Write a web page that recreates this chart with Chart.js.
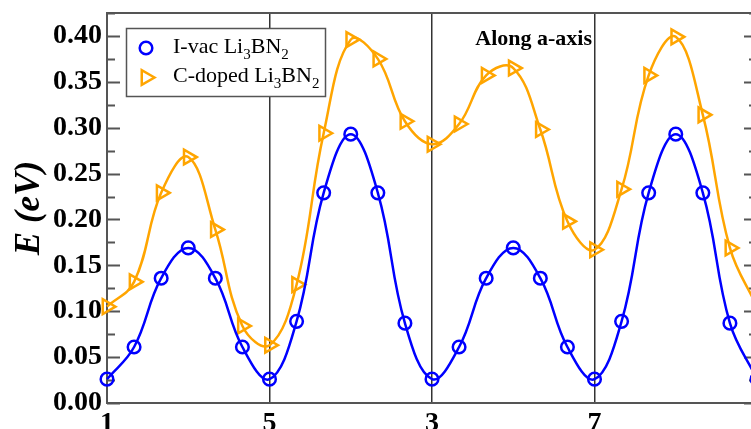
<!DOCTYPE html>
<html><head><meta charset="utf-8">
<script src="https://cdn.jsdelivr.net/npm/chart.js@4/dist/chart.umd.min.js"></script>
<style>
html,body{margin:0;padding:0;overflow:hidden;background:#fff}
#wrap{position:absolute;left:0;top:0;width:760px;height:440px}
canvas{display:block}
</style></head>
<body><div id="wrap"><canvas id="c" width="760" height="440" style="width:760px;height:440px"></canvas></div>
<script>
// ---- data ----
const pathTickLabels = ['1', '5', '3', '7', ''];
const pointsPerSegment = 6;
const ivacValues = [
  0.026, 0.061, 0.136, 0.169, 0.136, 0.061,
  0.026, 0.089, 0.229, 0.293, 0.229, 0.087,
  0.026, 0.061, 0.136, 0.169, 0.136, 0.061,
  0.026, 0.089, 0.229, 0.293, 0.229, 0.087,
  0.026
];
const cdopedValues = [
  0.105, 0.132, 0.229, 0.268, 0.189, 0.084,
  0.063, 0.129, 0.294, 0.396, 0.375, 0.307,
  0.282, 0.304, 0.357, 0.365, 0.298, 0.198,
  0.167, 0.233, 0.357, 0.399, 0.314, 0.169,
  0.105
];
const yMin = 0, yMax = 0.425, yStep = 0.05;
const legendParts = [
  [['I-vac Li', false], ['3', true], ['BN', false], ['2', true]],
  [['C-doped Li', false], ['3', true], ['BN', false], ['2', true]]
];
const annotationText = 'Along a-axis';
const yAxisTitle = 'E (eV)';

const BLUE = 'rgb(0,0,255)';
const ORANGE = 'rgb(255,165,0)';
const FRAME = '#555';
const SERIF = '"Liberation Serif", "Times New Roman", serif';

const xLabels = ivacValues.map((_, i) => (i % pointsPerSegment === 0) ? pathTickLabels[i / pointsPerSegment] : '');

function zeroPad(scale) {
  scale.paddingTop = 0; scale.paddingBottom = 0;
  scale.paddingLeft = 0; scale.paddingRight = 0;
}

const framePlugin = {
  id: 'frame',
  beforeDatasetsDraw(chart) {
    const ctx = chart.ctx;
    const {left, right, top, bottom} = chart.chartArea;
    const ys = chart.scales.y;
    ctx.save();
    ctx.strokeStyle = FRAME;
    ctx.lineWidth = 2;
    ctx.strokeRect(left, top, right - left, bottom - top);
    const n = Math.round((yMax - yMin) / (yStep / 2));
    for (let k = 0; k <= n; k++) {
      const v = yMin + k * yStep / 2;
      if (v > yMax + 1e-9) break;
      const py = Math.round(ys.getPixelForValue(v)) + 0.5;
      const len = (k % 2 === 0) ? 13 : 8;
      ctx.beginPath();
      ctx.moveTo(left, py); ctx.lineTo(left + len, py);
      ctx.moveTo(right, py); ctx.lineTo(right - len, py);
      ctx.stroke();
    }
    ctx.restore();
  },
  afterDraw(chart) {
    const ctx = chart.ctx;
    ctx.save();
    ctx.fillStyle = '#fff';
    ctx.fillRect(126, 28, 200, 69);
    ctx.strokeStyle = FRAME;
    ctx.lineWidth = 1.5;
    ctx.strokeRect(126.5, 28.5, 199, 68);
    ctx.strokeStyle = BLUE; ctx.lineWidth = 2.5;
    ctx.beginPath(); ctx.arc(146, 48, 6.3, 0, Math.PI * 2); ctx.stroke();
    ctx.strokeStyle = ORANGE;
    const r = 8.5, cx = 146, cy = 77.5;
    ctx.beginPath();
    ctx.moveTo(cx + r, cy);
    ctx.lineTo(cx - r / 2, cy - r * 0.866);
    ctx.lineTo(cx - r / 2, cy + r * 0.866);
    ctx.closePath(); ctx.stroke();
    ctx.fillStyle = '#000';
    ctx.textBaseline = 'alphabetic';
    ctx.textAlign = 'left';
    const baselines = [53, 82];
    legendParts.forEach((parts, i) => {
      let x = 173;
      parts.forEach(([t, sub]) => {
        ctx.font = sub ? '15px ' + SERIF : '22px ' + SERIF;
        ctx.fillText(t, x, baselines[i] + (sub ? 6 : 0));
        x += ctx.measureText(t).width;
      });
    });
    ctx.font = 'bold 22px ' + SERIF;
    ctx.textAlign = 'right';
    ctx.fillText(annotationText, 592, 45);
    ctx.restore();
  }
};

new Chart(document.getElementById('c'), {
  type: 'line',
  data: {
    labels: xLabels,
    datasets: [
      {
        label: 'I-vac Li3BN2',
        data: ivacValues,
        borderColor: BLUE,
        borderWidth: 2.5,
        tension: 0.4,
        pointStyle: 'circle',
        pointRadius: 6.3,
        pointBorderWidth: 2.5,
        pointBorderColor: BLUE,
        pointBackgroundColor: 'rgba(0,0,0,0)',
        fill: false
      },
      {
        label: 'C-doped Li3BN2',
        data: cdopedValues,
        borderColor: ORANGE,
        borderWidth: 2.5,
        tension: 0.4,
        pointStyle: 'triangle',
        rotation: 90,
        pointRadius: 8.5,
        pointBorderWidth: 2.5,
        pointBorderColor: ORANGE,
        pointBackgroundColor: 'rgba(0,0,0,0)',
        fill: false
      }
    ]
  },
  options: {
    responsive: false,
    animation: false,
    events: [],
    layout: {autoPadding: false, padding: {left: 0, top: 13, right: 3, bottom: 0}},
    plugins: {legend: {display: false}, tooltip: {enabled: false}},
    scales: {
      x: {
        type: 'category',
        offset: false,
        afterFit(scale) { scale.height = 37; zeroPad(scale); },
        grid: {
          drawTicks: false,
          lineWidth: 1.5,
          color: (c) => {
            const i = c.index;
            return (i % pointsPerSegment === 0 && i > 0 && i < xLabels.length - 1) ? '#333' : 'rgba(0,0,0,0)';
          }
        },
        border: {display: false},
        ticks: {
          autoSkip: false,
          maxRotation: 0,
          padding: 4,
          color: '#000',
          font: {family: SERIF, size: 28, weight: 'bold'}
        }
      },
      y: {
        min: yMin,
        max: yMax,
        afterFit(scale) { scale.width = 107; zeroPad(scale); },
        grid: {display: false, drawTicks: false},
        border: {display: false},
        ticks: {
          stepSize: yStep,
          includeBounds: false,
          padding: 5,
          color: '#000',
          font: {family: SERIF, size: 28, weight: 'bold'},
          callback: (v) => Number(v).toFixed(2)
        },
        title: {
          display: true,
          text: yAxisTitle,
          color: '#000',
          padding: {top: 9, bottom: 0},
          font: {family: SERIF, size: 35, weight: 'bold', style: 'italic'}
        }
      }
    }
  },
  plugins: [framePlugin]
});
</script>
</body></html>
